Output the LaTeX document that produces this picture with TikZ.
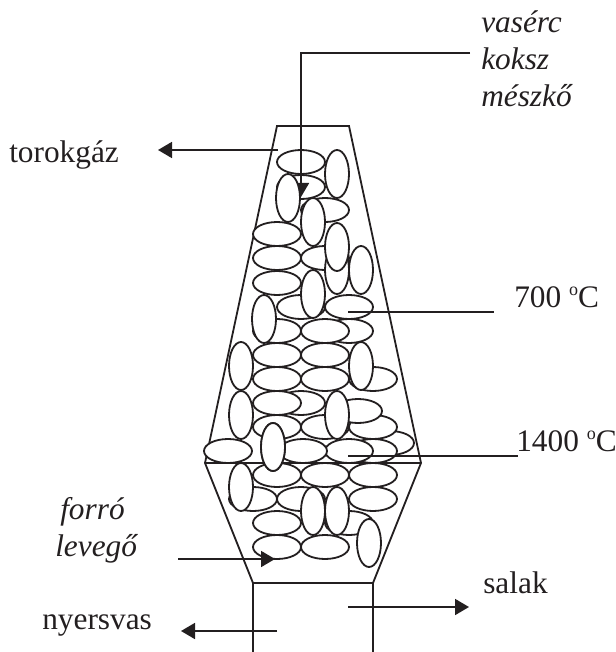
\documentclass[tikz,border=0pt]{standalone}
\usepackage{fontspec}
\setmainfont{Liberation Serif}
\usetikzlibrary{arrows.meta,shapes.geometric}
\definecolor{ink}{HTML}{231F20}
\newcommand{\degmark}{\raisebox{8.5pt}{\fontsize{13.5pt}{14pt}\selectfont o}}
\tikzset{
  x=0.75pt,y=-0.75pt,
  eh/.style={draw=ink,fill=white,line width=1.35pt,ellipse,minimum width=36pt,minimum height=18pt,inner sep=0pt,outer sep=0pt},
  ev/.style={draw=ink,fill=white,line width=1.35pt,ellipse,minimum width=18pt,minimum height=36pt,inner sep=0pt,outer sep=0pt},
  wall/.style={draw=ink,line width=1.35pt},
  lead/.style={draw=ink,line width=1.35pt},
  flow/.style={draw=ink,line width=1.35pt,-{Triangle[length=10.5pt,width=12pt]}},
  lab/.style={text=ink,font=\fontsize{23.5pt}{28pt}\selectfont,inner sep=0pt,anchor=base west},
  labi/.style={lab,font=\fontsize{23.5pt}{28pt}\selectfont\itshape},
}
\begin{document}
\begin{tikzpicture}
\useasboundingbox (0,0) rectangle (615,652);
% walls
\draw[wall] (205,463) -- (277,126) -- (349,126) -- (421,463) -- (373,583) -- (253,583) -- cycle;
\draw[wall] (253,583) -- (253,652);
\draw[wall] (373,583) -- (373,652);
% charge
\foreach \x/\y in {349/331,373/379,390/443,373/427,358/411,373/451,349/523,301/187,325/210,325/258,301/403}
  \node[eh] (h\x-\y) at (\x,\y) {};
\node[ev] (v1) at (337,270) {};
\node[ev] (v2) at (337,247) {};
\foreach \x/\y in {301/162,277/234,277/258,277/283,301/307,349/307,277/331,325/331,277/355,325/355,277/379,325/379,277/403,277/427,325/427,349/451,303/451,228/451,253/499,277/475,325/475,373/475,301/499,373/499,277/523,277/547,325/547}
  \node[eh] (k\x-\y) at (\x,\y) {};
\foreach \x/\y in {337/174,313/222,361/270,313/294,264/319,241/366,361/366,241/415,337/415,273/447,241/487,313/511,337/511,369/543}
  \node[ev] (w\x-\y) at (\x,\y) {};
% feed arrow
\coordinate (feedend) at (470,53);
\coordinate (feedbend) at (301,53);
\coordinate (feedtip) at (301,197);
\draw[flow] (feedend) -- (feedbend) -- (feedtip);
\node[ev] (v288) at (288,198) {};
% belt line drawn above the charge
\draw[wall] (205,463) -- (421,463);
\node[ev] (v273) at (273,447) {};
% leaders
\coordinate (a1) at (278,150); \coordinate (a2) at (158,150);
\draw[flow] (a1) -- (a2);
\coordinate (b1) at (348,312); \coordinate (b2) at (494,312);
\draw[lead] (b1) -- (b2);
\coordinate (c1) at (348,456); \coordinate (c2) at (518,456);
\draw[lead] (c1) -- (c2);
\coordinate (d1) at (178,559); \coordinate (d2) at (275,559);
\draw[flow] (d1) -- (d2);
\coordinate (e1) at (348,607); \coordinate (e2) at (469,607);
\draw[flow] (e1) -- (e2);
\coordinate (f1) at (277,631); \coordinate (f2) at (181,631);
\draw[flow] (f1) -- (f2);
% labels
\node[labi] (t1) at (481,33) {vasérc};
\node[labi] (t2) at (481,70) {koksz};
\node[labi] (t3) at (481,107) {mészkő};
\node[lab] (t4) at (9,163) {torokgáz};
\node[lab] (t5) at (514,307) {700 \degmark C};
\node[lab] (t6) at (516,451) {1400 \degmark C};
\node[labi] (t7) at (60,519) {forró};
\node[labi] (t8) at (55,556) {levegő};
\node[lab] (t9) at (483,593) {salak};
\node[lab] (t10) at (42,629) {nyersvas};
\end{tikzpicture}
\end{document}
